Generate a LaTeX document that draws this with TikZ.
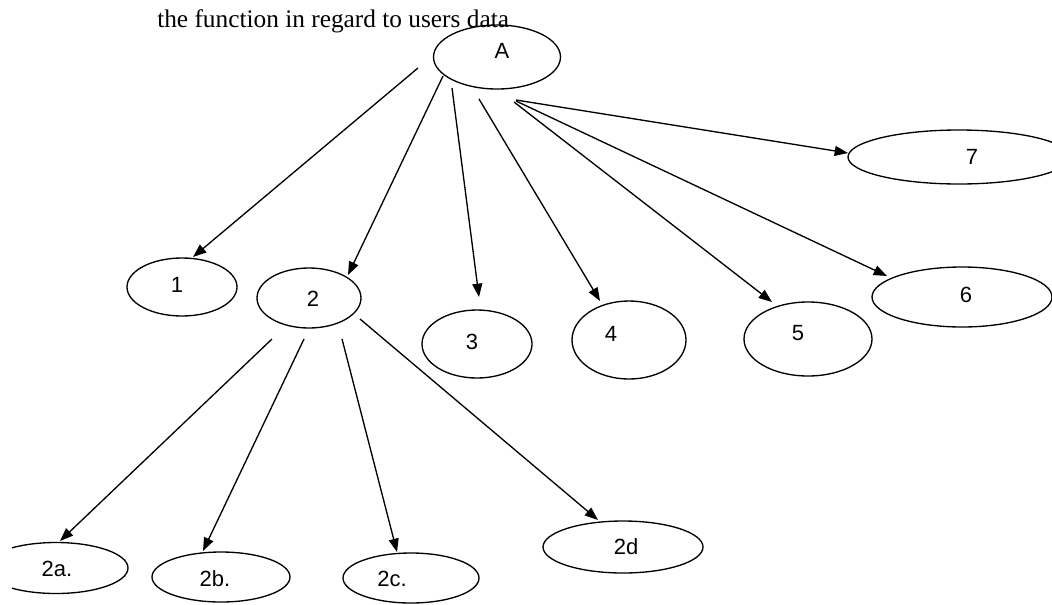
\documentclass[tikz,border=0pt]{standalone}
\usepackage{fontspec}
\setmainfont{Liberation Serif}
\newfontfamily\labelfont{Liberation Sans}
\usetikzlibrary{shapes.geometric,arrows.meta}
\begin{document}
\begin{tikzpicture}[x=0.75pt,y=-0.75pt,
  oval/.style={draw, ellipse, line width=1pt, inner sep=0pt, outer sep=0pt},
  axes/.style 2 args={minimum width=#1*0.75pt, minimum height=#2*0.75pt},
  tag/.style={inner sep=0pt, font={\labelfont\fontsize{16.5pt}{19pt}\selectfont}},
  link/.style={line width=1pt, -{Triangle[length=10pt,width=7.5pt]}}]

\useasboundingbox (0,0) rectangle (1052,604);

% heading
\node[anchor=base west, inner sep=0pt, font={\fontsize{19pt}{22pt}\selectfont}]
  (title) at (157,27) {the function in regard to users data};

% top level
\node[oval, axes={127}{64}] (A) at (497,57) {};
% first level
\node[oval, axes={110}{58}]  (n1) at (182,287) {};
\node[oval, axes={104}{60}]  (n2) at (309,298) {};
\node[oval, axes={110}{68}]  (n3) at (477,344) {};
\node[oval, axes={114}{78}]  (n4) at (629,340) {};
\node[oval, axes={128}{74}]  (n5) at (808,339) {};
\node[oval, axes={180}{60}]  (n6) at (962,297) {};
\node[oval, axes={222}{54}]  (n7) at (959,157) {};
% second level under 2
\begin{scope}
  \clip (12,0) rectangle (1052,604);
  \node[oval, axes={144}{51}] (n2a) at (56,568) {};
\end{scope}
\node[oval, axes={138}{50}] (n2b) at (221,577) {};
\node[oval, axes={136}{50}] (n2c) at (411,578) {};
\node[oval, axes={160}{52}] (n2d) at (623,547) {};

% labels
\node[tag] (tA)  at (502,51)  {A};
\node[tag] (t1)  at (177,285) {1};
\node[tag] (t2)  at (313,299) {2};
\node[tag] (t3)  at (472,342) {3};
\node[tag] (t4)  at (611,334) {4};
\node[tag] (t5)  at (798,333) {5};
\node[tag] (t6)  at (966,295) {6};
\node[tag] (t7)  at (972,157) {7};
\node[tag] (t2a) at (57,569)  {2a.};
\node[tag] (t2b) at (215,579) {2b.};
\node[tag] (t2c) at (392,579) {2c.};
\node[tag] (t2d) at (626,547) {2d};

% connector ends
\coordinate (sA1) at (418,68);   \coordinate (e1) at (193,257);
\coordinate (sA2) at (443,76);   \coordinate (e2) at (348,275);
\coordinate (sA3) at (452,88);   \coordinate (e3) at (479,297);
\coordinate (sA4) at (479,99);   \coordinate (e4) at (600,301);
\coordinate (sA5) at (514,102);  \coordinate (e5) at (772,302);
\coordinate (sA6) at (516,101);  \coordinate (e6) at (887,276);
\coordinate (sA7) at (516,100);  \coordinate (e7) at (848,153);
\coordinate (s2a) at (272,339);  \coordinate (e2a) at (60,541);
\coordinate (s2b) at (304,339);  \coordinate (e2b) at (203,551);
\coordinate (s2c) at (342,339);  \coordinate (e2c) at (397,552);
\coordinate (s2d) at (360,319);  \coordinate (e2d) at (598,520);

% arrows from A
\draw[link] (sA1) -- (e1);
\draw[link] (sA2) -- (e2);
\draw[link] (sA3) -- (e3);
\draw[link] (sA4) -- (e4);
\draw[link] (sA5) -- (e5);
\draw[link] (sA6) -- (e6);
\draw[link] (sA7) -- (e7);
% arrows from 2
\draw[link] (s2a) -- (e2a);
\draw[link] (s2b) -- (e2b);
\draw[link] (s2c) -- (e2c);
\draw[link] (s2d) -- (e2d);
\end{tikzpicture}
\end{document}
